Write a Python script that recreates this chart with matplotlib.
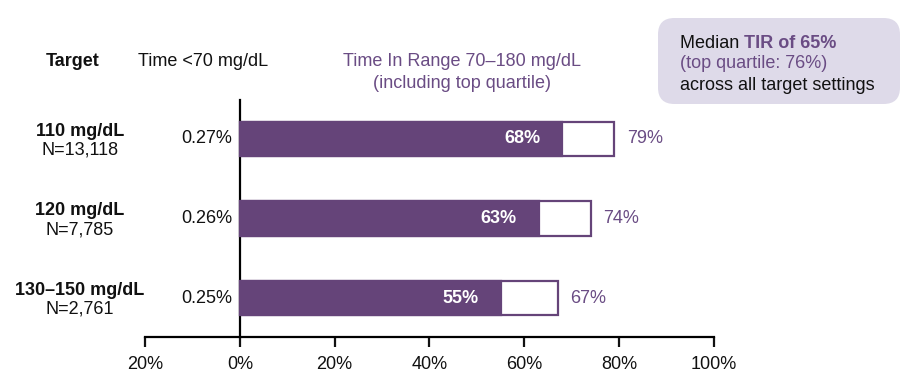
import matplotlib.pyplot as plt
import matplotlib as mpl
from matplotlib.patches import FancyBboxPatch
from matplotlib.ticker import FuncFormatter

# ---- data -----------------------------------------------------------------
targets = ['110 mg/dL', '120 mg/dL', '130\u2013150 mg/dL']
n_users = ['N=13,118', 'N=7,785', 'N=2,761']
time_below_70 = [0.27, 0.26, 0.25]
median_tir = [68, 63, 55]
top_quartile_tir = [79, 74, 67]
xticks = [-20, 0, 20, 40, 60, 80, 100]

# ---- style ----------------------------------------------------------------
PURPLE = '#654479'
TXT_PURPLE = '#6A4C84'
BOX = '#DEDAE9'
INK = '#111111'
FS = 13

mpl.rcParams.update({
    'font.family': ['Liberation Sans', 'DejaVu Sans'],
    'font.size': FS,
})

fig = plt.figure(figsize=(9.12, 3.84), dpi=100)
ax = fig.add_axes([145 / 912, 1 - 337 / 384, 569 / 912, 237 / 384])
ax.patch.set_visible(False)

ypos = list(range(len(targets)))
ax.barh(ypos, top_quartile_tir, height=0.43, color='white',
        edgecolor=PURPLE, linewidth=1.6, zorder=2)
ax.barh(ypos, median_tir, height=0.43, color=PURPLE,
        edgecolor=PURPLE, linewidth=1.6, zorder=3)

ax.set_xlim(-20, 100)
ax.set_ylim(2.49, -0.49)

for s in ['top', 'right']:
    ax.spines[s].set_visible(False)
ax.spines['left'].set_position(('data', 0))
ax.spines['left'].set_linewidth(1.6)
ax.spines['bottom'].set_linewidth(1.6)
ax.set_yticks([])
ax.set_xticks(xticks)
ax.xaxis.set_major_formatter(FuncFormatter(lambda v, p: f'{abs(v):.0f}%'))
ax.tick_params(axis='x', length=7, width=1.6, pad=7, labelsize=FS,
               colors=INK)

for y, m, q, h in zip(ypos, median_tir, top_quartile_tir, time_below_70):
    ax.text(m - 4.6, y, f'{m}%', ha='right', va='center', color='white',
            fontweight='bold', fontsize=FS, zorder=4)
    ax.text(q + 2.6, y, f'{q}%', ha='left', va='center', color=TXT_PURPLE,
            fontsize=FS)
    ax.text(-1.6, y, f'{h:.2f}%', ha='right', va='center', color=INK,
            fontsize=FS)

# target labels at the far left
for y, t, n in zip(ypos, targets, n_users):
    ax.text(-33.7, y - 0.1, t, ha='center', va='center', fontweight='bold',
            fontsize=FS, color=INK, clip_on=False)
    ax.text(-33.7, y + 0.14, n, ha='center', va='center', fontsize=FS,
            color=INK, clip_on=False)

# column headers
fig.text(73 / 912, 1 - 61 / 384, 'Target', ha='center', va='center',
         fontweight='bold', fontsize=FS, color=INK)
fig.text(203 / 912, 1 - 61 / 384, 'Time <70 mg/dL', ha='center', va='center',
         fontsize=FS, color=INK)
fig.text(462 / 912, 1 - 62 / 384, 'Time In Range 70\u2013180 mg/dL',
         ha='center', va='center', fontsize=FS, color=TXT_PURPLE)
fig.text(462 / 912, 1 - 84 / 384, '(including top quartile)',
         ha='center', va='center', fontsize=FS, color=TXT_PURPLE)

# summary box
box = FancyBboxPatch((658 / 912, 1 - 104 / 384), 242 / 912, 86 / 384,
                     boxstyle='round,pad=0,rounding_size=0.018',
                     transform=fig.transFigure, facecolor=BOX,
                     edgecolor='none', mutation_aspect=912 / 384, zorder=-1)
fig.patches.append(box)
t1 = fig.text(680 / 912, 1 - 43 / 384, 'Median ', ha='left', va='center',
              fontsize=FS, color=INK)
fig.canvas.draw()
ax.annotate('TIR of 65%', xy=(1, 0.5), xycoords=t1, ha='left', va='center',
            fontsize=FS, fontweight='bold', color=TXT_PURPLE,
            annotation_clip=False)
fig.text(680 / 912, 1 - 64 / 384, '(top quartile: 76%)', ha='left',
         va='center', fontsize=FS, color=TXT_PURPLE)
fig.text(680 / 912, 1 - 86 / 384, 'across all target settings', ha='left',
         va='center', fontsize=FS, color=INK)

fig.savefig('out.png', dpi=100, facecolor='white')
